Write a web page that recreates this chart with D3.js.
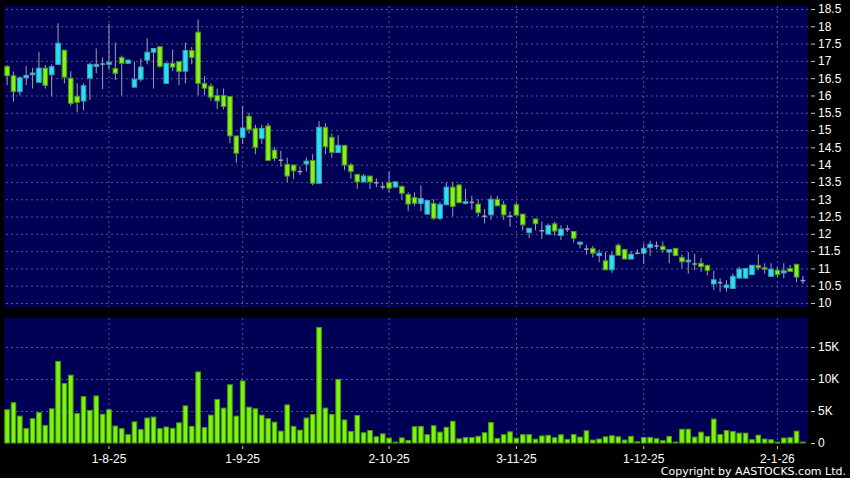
<!DOCTYPE html>
<html lang="en">
<head>
<meta charset="UTF-8" />
<title>K-line chart</title>
<script src="https://d3js.org/d3.v7.min.js"></script>
<style>
  body { margin: 0; background: #000; }
  svg { display: block; font-family: "DejaVu Sans", Verdana, sans-serif; }
  .axis path.domain { display: none; }
  .axis text { fill: #fff; font-size: 12px; }
  .axis line { stroke: #c8c8c8; }
  .grid line { stroke: #565694; stroke-dasharray: 2,3; stroke-width: 1; }
  .grid path.domain { display: none; }
</style>
</head>
<body>
<svg id="chart" width="850" height="478"></svg>
<script>

// daily data, oldest first
const opens = [
  16.84,16.57,16.11,16.51,16.60,16.38,16.79,16.60,16.90,17.31,
  16.50,15.98,15.84,16.50,16.84,16.93,16.90,16.78,17.10,16.93,
  16.24,16.47,17.02,17.25,17.41,16.35,16.93,16.98,16.70,17.30,
  17.83,16.35,16.27,16.00,16.00,15.97,14.83,14.79,15.40,15.05,
  14.76,15.12,14.42,14.15,14.01,13.99,13.82,14.02,14.12,13.46,
  15.08,14.79,14.35,14.56,13.99,13.72,13.50,13.67,13.50,13.38,
  13.48,13.35,13.37,13.14,13.05,12.88,12.57,12.88,12.45,12.84,
  13.35,13.41,12.88,12.93,12.86,12.53,12.55,13.00,12.84,12.53,
  12.84,12.57,12.04,12.43,12.11,11.99,12.29,11.95,12.16,12.07,
  11.70,11.58,11.58,11.37,11.22,10.96,11.67,11.55,11.27,11.46,
  11.44,11.60,11.67,11.64,11.47,11.58,11.32,11.19,11.15,11.15,
  11.09,10.55,10.61,10.44,10.42,10.72,10.72,10.82,11.09,11.02,
  10.77,10.95,10.87,11.00,11.12,10.67
];
const closes = [
  16.57,16.11,16.51,16.58,16.65,16.79,16.29,16.83,17.51,16.53,
  15.77,15.80,16.28,16.90,16.90,16.93,16.96,16.64,16.93,17.02,
  16.47,16.82,17.25,17.36,16.84,16.93,16.82,16.69,17.30,17.10,
  16.35,16.21,15.95,15.84,15.68,14.83,14.33,15.06,15.02,14.50,
  15.05,14.12,14.18,14.15,13.67,13.82,13.82,14.10,13.46,15.08,
  14.52,14.35,14.56,13.99,13.80,13.50,13.67,13.50,13.50,13.38,
  13.32,13.50,13.17,12.86,12.88,13.02,12.96,12.45,12.85,13.35,
  12.79,12.90,12.93,12.93,12.61,12.53,13.00,12.81,12.55,12.53,
  12.54,12.26,12.16,12.29,12.11,12.24,12.08,12.14,12.16,11.87,
  11.76,11.58,11.44,11.44,10.96,11.38,11.38,11.27,11.41,11.46,
  11.58,11.70,11.67,11.54,11.54,11.37,11.19,11.24,11.15,11.05,
  10.94,10.67,10.61,10.52,10.77,10.98,11.00,11.09,11.02,10.98,
  10.98,10.82,10.93,10.91,10.75,10.67
];
const highs = [
  16.88,16.69,16.55,16.85,16.80,17.26,16.88,16.90,18.09,17.31,
  16.70,16.35,16.35,16.95,17.36,17.10,18.07,17.53,17.15,17.05,
  16.98,17.07,17.65,17.36,17.41,16.95,17.33,16.98,17.53,17.40,
  18.20,16.56,16.35,16.20,16.20,15.97,14.83,15.70,15.50,15.15,
  15.15,15.20,14.50,14.40,14.20,13.99,13.95,14.20,14.30,15.26,
  15.20,14.90,14.85,14.56,14.05,13.72,13.73,13.67,13.60,13.48,
  13.80,13.52,13.40,13.20,13.20,13.40,12.96,13.00,12.92,13.48,
  13.50,13.45,13.30,13.10,13.00,12.72,13.10,13.10,12.95,12.65,
  12.90,12.57,12.16,12.43,12.35,12.30,12.35,12.25,12.25,12.07,
  11.76,11.68,11.65,11.55,11.48,11.48,11.72,11.55,11.50,11.55,
  11.72,11.80,11.78,11.78,11.54,11.58,11.40,11.47,11.42,11.30,
  11.09,10.93,10.72,10.66,10.85,11.05,11.00,11.09,11.40,11.15,
  11.15,11.05,11.15,11.10,11.12,10.78
];
const lows = [
  16.30,15.82,16.00,16.30,16.20,16.38,16.20,15.97,16.90,16.35,
  15.70,15.53,15.57,15.87,16.64,16.18,16.74,16.45,16.00,16.90,
  16.24,16.40,16.90,16.20,16.80,16.35,16.70,16.30,16.35,16.90,
  16.00,16.00,15.85,15.60,15.60,14.62,14.06,14.60,14.90,14.30,
  14.60,14.10,14.10,13.94,13.50,13.58,13.70,13.80,13.40,13.46,
  14.30,14.20,14.35,13.85,13.60,13.30,13.50,13.30,13.35,13.28,
  13.20,13.35,13.00,12.65,12.80,12.65,12.57,12.40,12.40,12.84,
  12.50,12.90,12.85,12.70,12.50,12.30,12.40,12.81,12.40,12.20,
  12.54,12.10,11.88,12.10,11.85,11.99,11.95,11.82,12.05,11.75,
  11.58,11.40,11.32,11.18,10.96,10.87,11.38,11.27,11.27,11.40,
  11.12,11.35,11.55,11.45,11.15,11.37,11.00,10.85,10.95,10.90,
  10.80,10.38,10.32,10.33,10.42,10.72,10.72,10.82,10.95,10.85,
  10.77,10.75,10.72,10.91,10.60,10.55
];
const volumes = [
  5200,6300,4200,2250,3800,4750,2750,5350,12750,9300,
  10600,4600,7250,5100,7350,4500,5200,2650,2250,1300,
  3300,2100,3900,4050,2250,2500,2300,3150,5800,2600,
  11100,2400,4350,6800,5450,9100,4200,9700,5600,5350,
  4350,3800,3250,1850,5950,2600,2000,3900,4450,18050,
  5450,4450,9950,3600,1800,4300,1600,1950,970,1430,
  770,150,800,400,2550,2600,1300,2700,1700,2450,
  3400,650,850,850,1050,1600,3200,700,1300,1750,
  750,1300,1300,600,1100,1200,820,1280,560,1330,
  920,1900,460,620,970,1130,970,460,1030,200,
  870,870,670,360,1030,150,2150,2150,920,1690,
  1030,3740,1330,1950,1800,1540,1540,510,1230,620,
  510,150,770,820,1850,150
];

// month ticks (bar index of first trading day shown)
const tickIdx = [16, 37, 60, 80, 100, 121];
const tickLabels = ["1-8-25", "1-9-25", "2-10-25", "3-11-25", "1-12-25", "2-1-26"];
const priceTicks = [10,10.5,11,11.5,12,12.5,13,13.5,14,14.5,15,15.5,16,16.5,17,17.5,18,18.5];
const volTicks = [0, 5000, 10000, 15000];

const W = 850, H = 478;
const plotL = 4, plotR = 808;
const priceTop = 6, priceBot = 307;
const volTop = 318, volBot = 444;

const svg = d3.select("#chart");
const n = closes.length;

const x = d3.scaleBand().domain(d3.range(n)).range([plotL, 806]).paddingInner(0.12).paddingOuter(0.05);
const bw = x.bandwidth();
const cx = i => x(i) + bw / 2;
const yP = d3.scaleLinear().domain([10, 18.5]).range([303, 9]);
const yV = d3.scaleLinear().domain([0, 15000]).range([443, 347]);

svg.append("rect").attr("width", W).attr("height", H).attr("fill", "#000");
svg.append("rect").attr("x", plotL).attr("y", priceTop).attr("width", plotR - plotL)
  .attr("height", priceBot - priceTop).attr("fill", "#000055");
svg.append("rect").attr("x", plotL).attr("y", volTop).attr("width", plotR - plotL)
  .attr("height", volBot - volTop).attr("fill", "#000055");

// horizontal grids
svg.append("g").attr("class", "grid").attr("transform", `translate(${plotR},0)`)
  .call(d3.axisLeft(yP).tickValues(priceTicks).tickSize(plotR - plotL).tickFormat(""));
svg.append("g").attr("class", "grid").attr("transform", `translate(${plotR},0)`)
  .call(d3.axisLeft(yV).tickValues(volTicks.slice(1)).tickSize(plotR - plotL).tickFormat(""));

// vertical grids
[[priceTop, priceBot], [volTop, volBot]].forEach(([t, b]) => {
  svg.append("g").attr("class", "grid")
    .selectAll("line").data(tickIdx).enter().append("line")
    .attr("x1", d => cx(d)).attr("x2", d => cx(d))
    .attr("y1", t).attr("y2", b);
});

// candles
const candles = svg.append("g").selectAll("g").data(d3.range(n)).enter().append("g");
candles.append("line")
  .attr("x1", cx).attr("x2", cx)
  .attr("y1", i => yP(highs[i])).attr("y2", i => yP(lows[i]))
  .attr("stroke", "#a0a0ae").attr("stroke-width", 1);
candles.append("rect")
  .attr("x", i => x(i) + 0.5)
  .attr("y", i => yP(Math.max(opens[i], closes[i])))
  .attr("width", bw - 1)
  .attr("height", i => Math.max(1.5, yP(Math.min(opens[i], closes[i])) - yP(Math.max(opens[i], closes[i]))))
  .attr("fill", i => closes[i] > opens[i] ? "#20e4f4" : closes[i] < opens[i] ? "#84f01c" : "#a0a0ae")
  .attr("stroke", i => closes[i] > opens[i] ? "#4a9cb0" : closes[i] < opens[i] ? "#4e9418" : "none")
  .attr("stroke-width", 1);

// volume
svg.append("g").selectAll("rect").data(volumes).enter().append("rect")
  .attr("x", (d, i) => x(i) + 0.5)
  .attr("y", d => yV(d))
  .attr("width", bw - 1)
  .attr("height", d => yV(0) - yV(d))
  .attr("fill", "#7cf40c")
  .attr("stroke", "#4a9a10")
  .attr("stroke-width", 1);

// right axes
svg.append("g").attr("class", "axis").attr("transform", `translate(${plotR + 3},0)`)
  .call(d3.axisRight(yP).tickValues(priceTicks).tickSize(4).tickPadding(3).tickFormat(d3.format("")));
svg.append("g").attr("class", "axis").attr("transform", `translate(${plotR + 3},0)`)
  .call(d3.axisRight(yV).tickValues(volTicks).tickSize(4).tickPadding(3)
    .tickFormat(d => d === 0 ? "0" : (d / 1000) + "K"));

// date axis
svg.append("g").attr("class", "axis").attr("transform", `translate(0,${volBot + 2})`)
  .call(d3.axisBottom(x).tickValues(tickIdx).tickSize(3).tickPadding(5)
    .tickFormat(d => tickLabels[tickIdx.indexOf(d)]));

svg.append("text").attr("x", 846).attr("y", 475).attr("text-anchor", "end")
  .attr("fill", "#fff").attr("font-size", "11px").text("Copyright by AASTOCKS.com Ltd.");

</script>
</body>
</html>
